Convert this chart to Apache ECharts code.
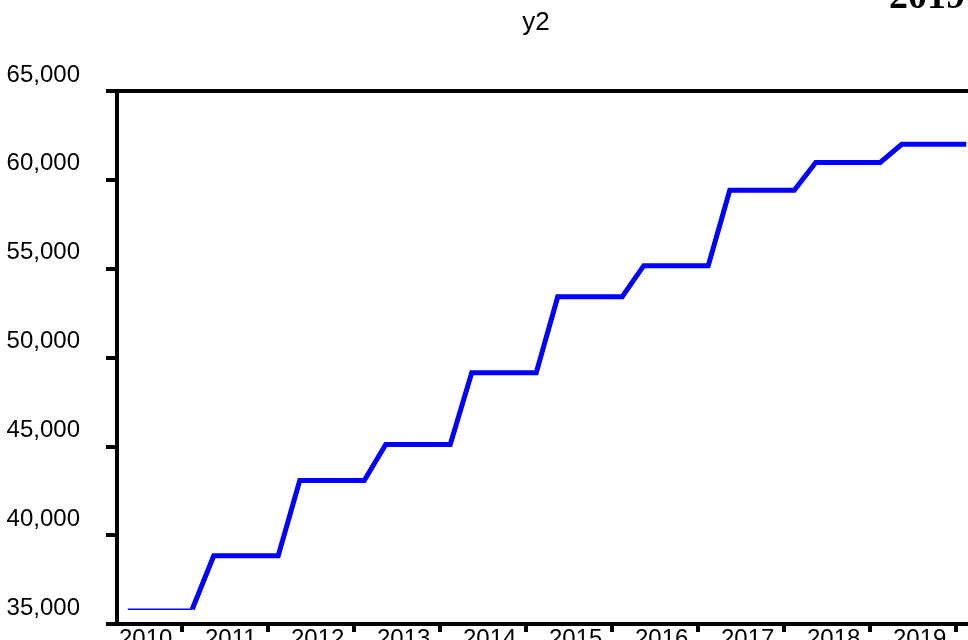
<!DOCTYPE html>
<html>
<head>
<meta charset="utf-8">
<script src="https://cdn.jsdelivr.net/npm/echarts@6/dist/echarts.min.js"></script>
<style>
  html, body { margin: 0; padding: 0; background: #fff; }
  #chart { width: 968px; height: 640px; }
</style>
</head>
<body>
<div id="chart"></div>
<script>
// ---- data ----
const years = ['2010', '2011', '2012', '2013', '2014', '2015', '2016', '2017', '2018', '2019'];
const quarters = ['Q1', 'Q2', 'Q3', 'Q4'];
// quarterly values of y2 (level constant within each year)
const y2Values = [
  35830, 35830, 35830, 35830,
  38840, 38840, 38840, 38840,
  43080, 43080, 43080, 43080,
  45100, 45100, 45100, 45100,
  49140, 49140, 49140, 49140,
  53420, 53420, 53420, 53420,
  55170, 55170, 55170, 55170,
  59410, 59410, 59410, 59410,
  60980, 60980, 60980, 60980,
  62000, 62000, 62000, 62000
];
const yTicks = { min: 35000, max: 65000, interval: 5000 };
const titleText = 'y2';
const panelText = '2019';

// ---- build ----
const categories = [];
years.forEach(y => quarters.forEach(q => categories.push(y + q)));
const firstYearCount = 4;
const thinData = y2Values.map((v, i) => (i < firstYearCount ? v : '-'));
const thickData = y2Values.map((v, i) => (i >= firstYearCount - 1 ? v : '-'));
const yearAxisData = years.concat(['']);

const FONT = '"Liberation Sans", Arial, sans-serif';
const chart = echarts.init(document.getElementById('chart'), null, { renderer: 'canvas' });
chart.setOption({
  animation: false,
  backgroundColor: '#ffffff',
  title: {
    text: titleText,
    left: 531,
    top: 5,
    textAlign: 'center',
    textStyle: { fontFamily: FONT, fontSize: 26, fontWeight: 'normal', color: '#000' }
  },
  graphic: [{
    type: 'text',
    left: 889,
    top: -21,
    style: {
      text: panelText,
      font: 'bold 38px "Liberation Serif", "Times New Roman", serif',
      fill: '#000'
    }
  }],
  grid: {
    left: 117,
    top: 91,
    right: -9,
    bottom: 16,
    show: true,
    borderColor: '#000',
    borderWidth: 4,
    containLabel: false,
    outerBoundsMode: 'none'
  },
  xAxis: [{
    type: 'category',
    data: categories,
    position: 'bottom',
    boundaryGap: true,
    axisLine: { show: true, lineStyle: { color: '#000', width: 4 } },
    axisTick: {
      show: true,
      length: 8,
      interval: (idx) => idx % 4 === 3,
      lineStyle: { color: '#000', width: 4 }
    },
    axisLabel: { show: false },
    splitLine: { show: false }
  }, {
    type: 'category',
    data: yearAxisData,
    position: 'bottom',
    boundaryGap: false,
    axisLine: { show: false },
    axisTick: { show: false },
    axisLabel: {
      show: true,
      interval: 0,
      align: 'left',
      margin: 3,
      fontFamily: FONT,
      fontSize: 24,
      color: '#000',
      padding: [0, 0, 0, 2]
    },
    splitLine: { show: false }
  }],
  yAxis: {
    type: 'value',
    min: yTicks.min,
    max: yTicks.max,
    interval: yTicks.interval,
    axisLine: { show: true, lineStyle: { color: '#000', width: 4 } },
    axisTick: { show: true, length: 11, lineStyle: { color: '#000', width: 4 } },
    axisLabel: {
      show: true,
      margin: 37,
      fontFamily: FONT,
      fontSize: 24,
      color: '#000',
      verticalAlign: 'bottom',
      padding: [0, 0, 4, 0]
    },
    splitLine: { show: false }
  },
  series: [{
    type: 'line',
    xAxisIndex: 0,
    data: thinData,
    showSymbol: false,
    symbol: 'none',
    lineStyle: { color: '#0000ff', width: 1.5 },
    z: 3
  }, {
    type: 'line',
    xAxisIndex: 0,
    data: thickData,
    showSymbol: false,
    symbol: 'none',
    lineStyle: { color: '#0000ff', width: 5, join: 'miter' },
    z: 3
  }]
});
</script>
</body>
</html>
